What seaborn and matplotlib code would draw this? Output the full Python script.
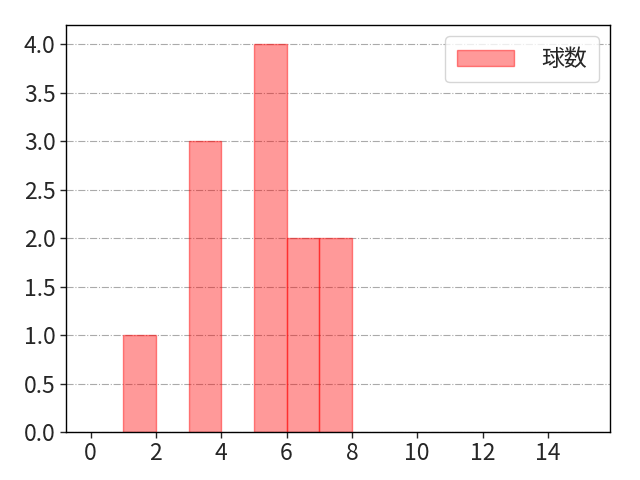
import numpy as np
import pandas as pd
import matplotlib
matplotlib.use('Agg')
import matplotlib.pyplot as plt
import seaborn as sns

# pitch counts per at-bat
pitches = [1, 3, 3, 3, 5, 5, 5, 5, 6, 6, 7, 7]
bin_edges = list(range(1, 9))
x_ticks = [0, 2, 4, 6, 8, 10, 12, 14]

sns.set_style('white')
plt.rcParams['font.family'] = ['Noto Sans CJK JP', 'DejaVu Sans']
plt.rcParams['font.size'] = 16.5

df = pd.DataFrame({'球数': pitches})

fig, ax = plt.subplots(figsize=(6.4, 4.8), dpi=100)
sns.histplot(data=df, x='球数', bins=bin_edges, color=(1, 0, 0, 0.4),
             edgecolor=(1, 0, 0, 0.4), linewidth=1, label='球数', ax=ax)
for p in ax.patches:
    p.set_facecolor((1, 0, 0, 0.4))
    p.set_edgecolor((1, 0, 0, 0.45))
    if p.get_height() == 0:
        p.set_visible(False)

ax.set_xlim(-0.75, 15.9)
ax.set_ylim(0, 4.2)
ax.set_xticks(x_ticks)
ax.set_yticks(np.arange(0, 4.01, 0.5))
ax.yaxis.set_major_formatter(matplotlib.ticker.FormatStrFormatter('%.1f'))
ax.set_xlabel('')
ax.set_ylabel('')
ax.grid(axis='y', linestyle='-.', color='#aaaaaa', linewidth=0.8)
ax.set_axisbelow(True)
ax.tick_params(axis='both', which='major', length=4, width=1, direction='out',
               bottom=True, left=True)
for s in ax.spines.values():
    s.set_color('black')
    s.set_linewidth(1)
ax.legend(loc='upper right', handlelength=2.5, handletextpad=1.2, borderpad=0.5)

fig.subplots_adjust(left=66/640, right=610/640, bottom=48/480, top=455/480)
fig.savefig('out.png', dpi=100)
